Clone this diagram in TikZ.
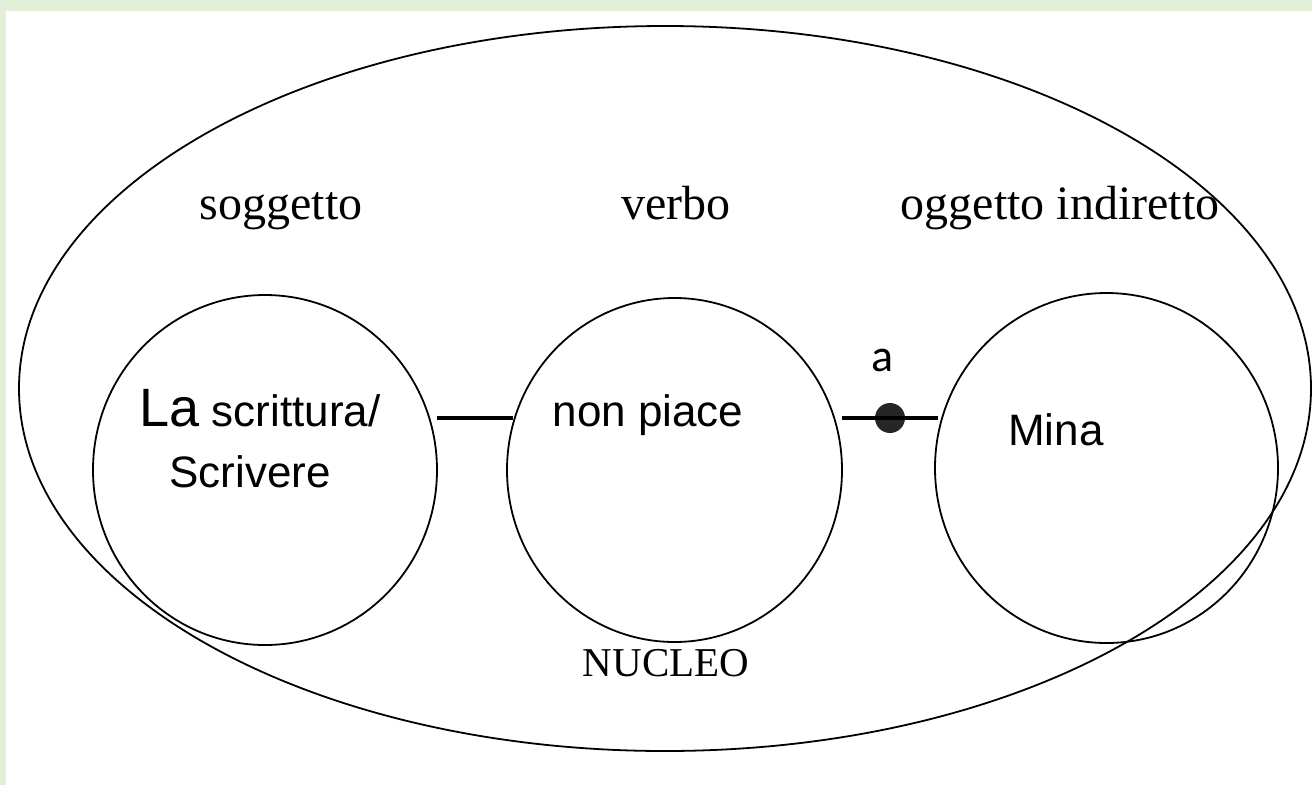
\documentclass[tikz,border=0pt]{standalone}
\usepackage{fontspec}
\setmainfont{Liberation Serif}
\setsansfont{Liberation Sans}
\newfontfamily\calfont{Carlito}
\definecolor{framegreen}{HTML}{E2EFD9}
\begin{document}
\begin{tikzpicture}[x=1pt,y=-1pt,
  ring/.style={draw=black,line width=1.8pt},
  role/.style={font=\fontsize{48}{54}\selectfont\rmfamily,inner sep=0pt,anchor=base},
  word/.style={font=\fontsize{44}{50}\selectfont\sffamily,inner sep=0pt},
  link/.style={line width=4pt}]
\useasboundingbox (0,0) rectangle (1312,785);
% page background with the green frame at top and left
\fill[framegreen] (0,0) rectangle (1312,785);
\fill[white] (6,11) rectangle (1312,785);
\begin{scope}
\clip (0,0) rectangle (1312,785);
% outer ellipse: the nucleus
\draw[ring] (665,388.5) ellipse [x radius=646, y radius=362.5];
\end{scope}
% the three constituents
\draw[ring] (265,470) ellipse [x radius=172, y radius=175];
\draw[ring] (674.5,470) ellipse [x radius=167.5, y radius=172];
\draw[ring] (1106.5,468) ellipse [x radius=171.5, y radius=175];
\coordinate (s1) at (437,418);
\coordinate (v1) at (513,418);
\coordinate (v2) at (842,418);
\coordinate (o1) at (938,418);
\node[circle,fill=black!85,minimum size=30pt,inner sep=0pt] (dot) at (890,418) {};
\draw[link] (s1) -- (v1);
\draw[link] (v2) -- (o1);
\node[role] (sog) at (281,219) {soggetto};
\node[role] (ver) at (676,219) {verbo};
\node[role] (ogg) at (1060,219) {oggetto indiretto};
\node[role,font=\fontsize{41}{46}\selectfont\rmfamily] (nuc) at (666,676) {NUCLEO};
\node[word] (la) at (260,408) {{\fontsize{54}{60}\selectfont La} scrittura/};
\node[word] (scr) at (250,472) {Scrivere};
\node[word] (np) at (648,415) {non piace};
\node[word] (mina) at (1056,430) {Mina};
\node[font=\fontsize{46}{52}\selectfont\calfont,inner sep=0pt] (prep) at (883,360) {a};
\end{tikzpicture}
\end{document}
